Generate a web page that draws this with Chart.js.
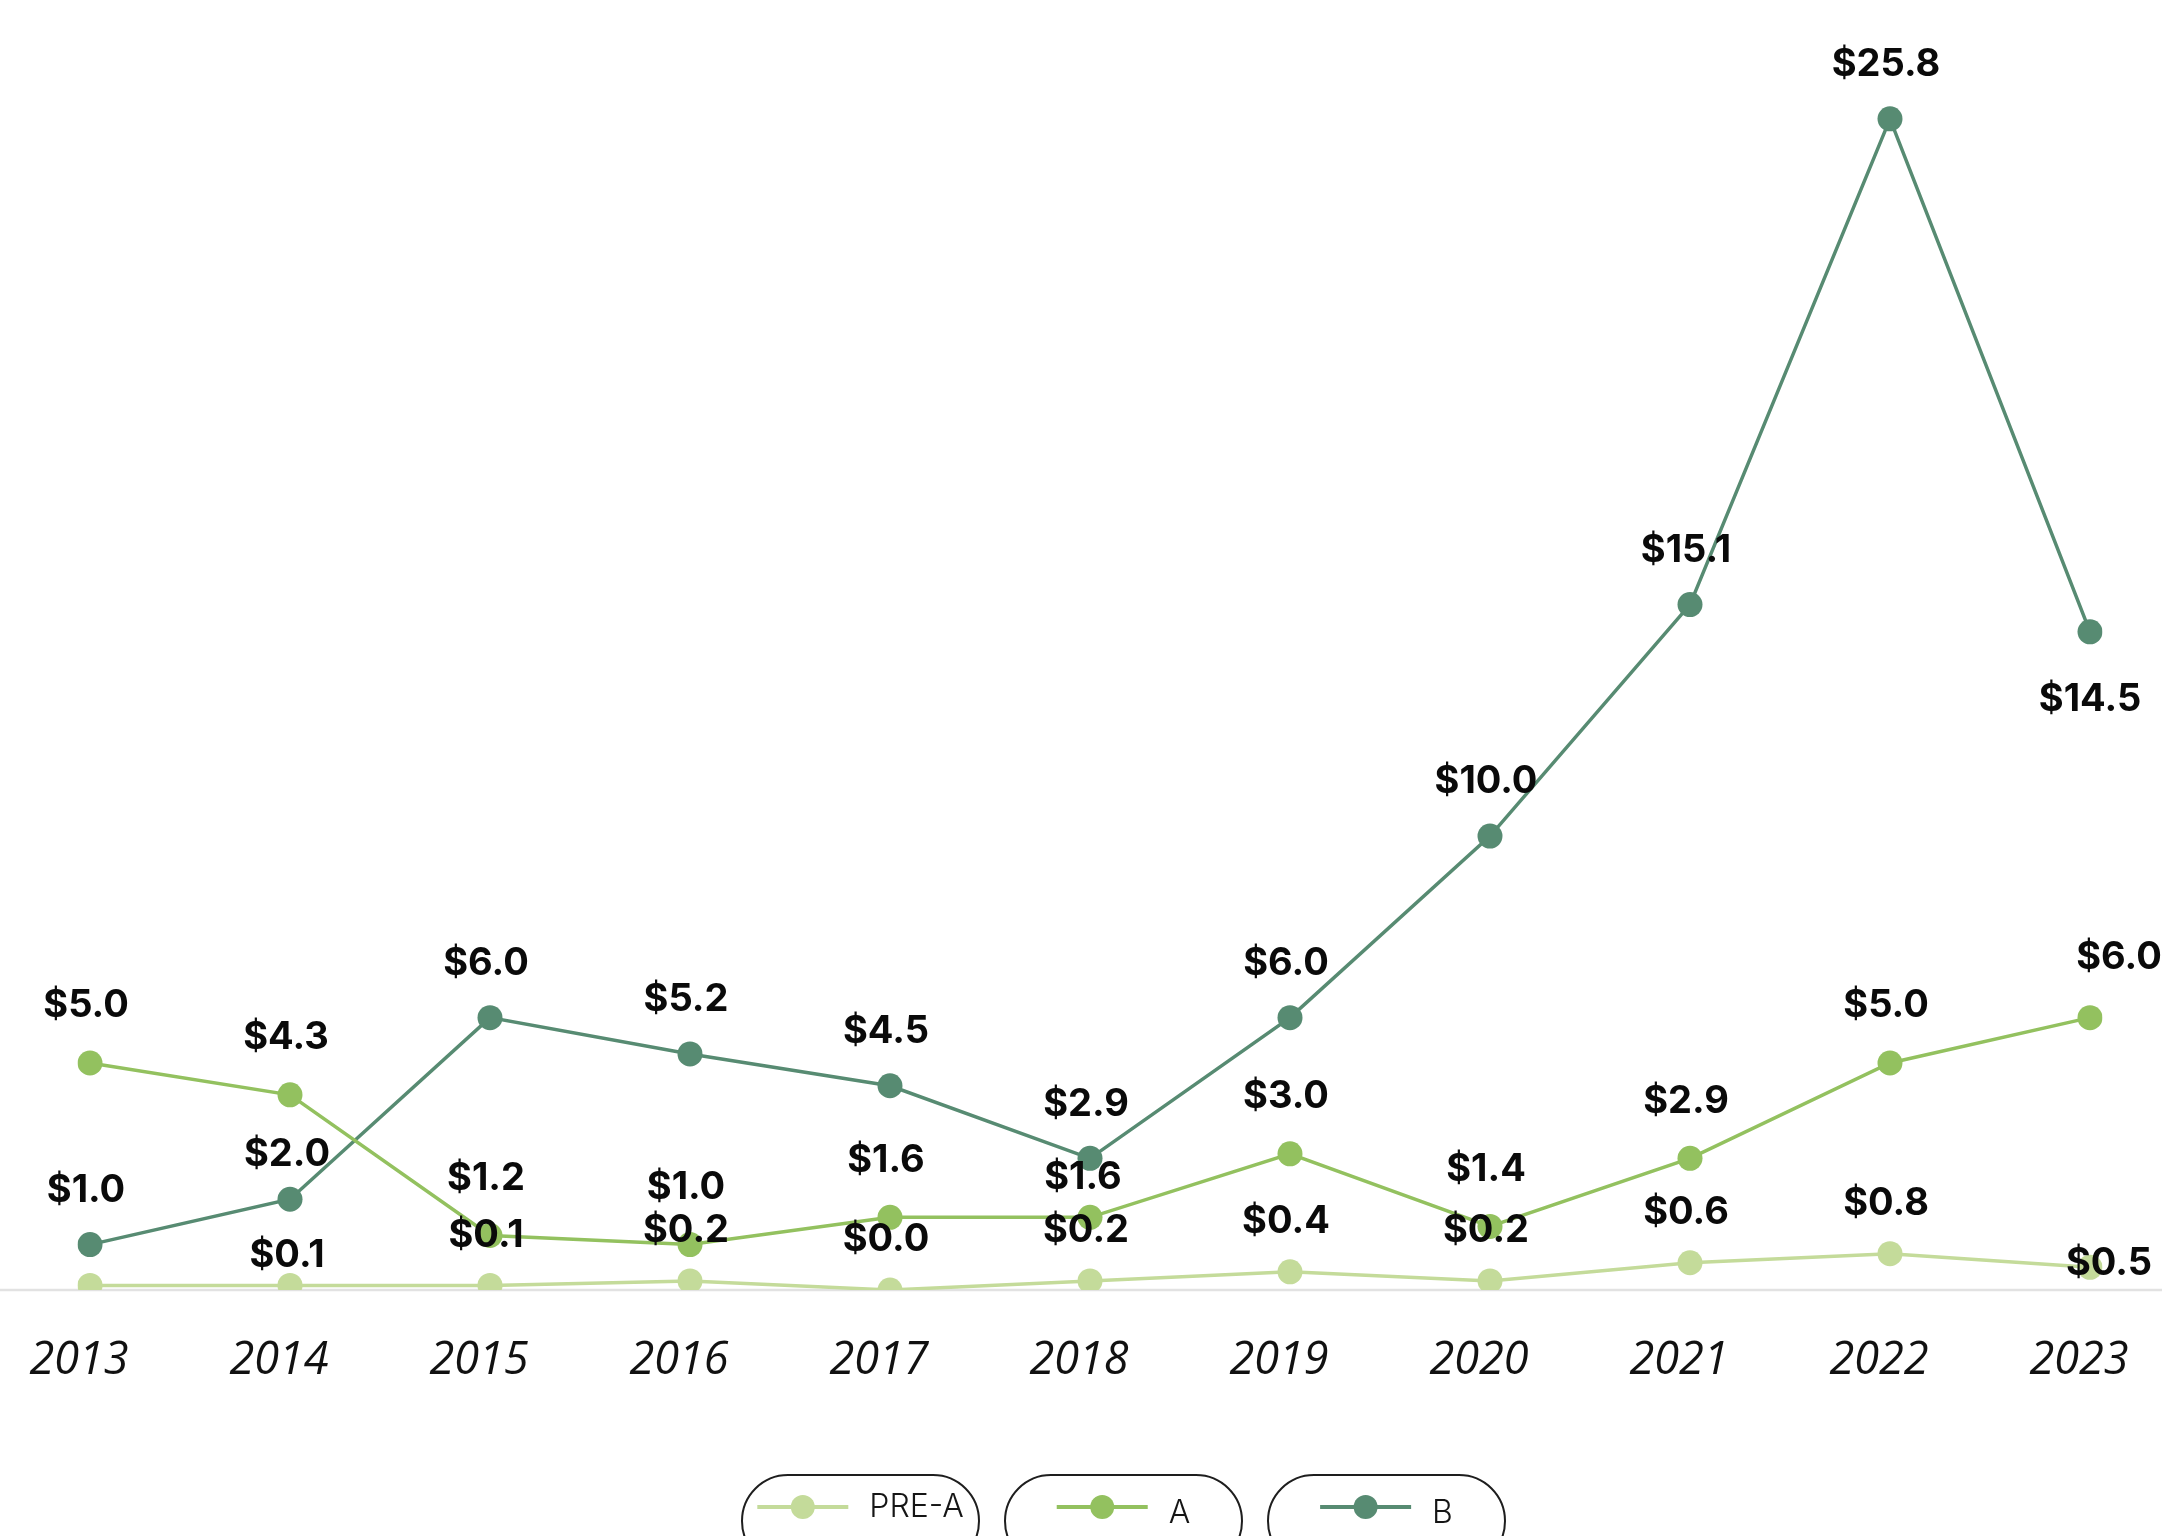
<!DOCTYPE html>
<html lang="en">
<head>
<meta charset="UTF-8">
<title>Funding by stage</title>
<script src="https://cdn.jsdelivr.net/npm/chart.js"></script>
<style>
  html, body { margin: 0; padding: 0; background: #fff; overflow: hidden; }
  canvas { display: block; }
</style>
</head>
<body>
<canvas id="stages" width="2162" height="1536"></canvas>
<script>
    const years = ['2013', '2014', '2015', '2016', '2017', '2018', '2019', '2020', '2021', '2022', '2023'];
    const preA = [0.1, 0.1, 0.1, 0.2, 0.0, 0.2, 0.4, 0.2, 0.6, 0.8, 0.5];
    const stageA = [5.0, 4.3, 1.2, 1.0, 1.6, 1.6, 3.0, 1.4, 2.9, 5.0, 6.0];
    const stageB = [1.0, 2.0, 6.0, 5.2, 4.5, 2.9, 6.0, 10.0, 15.1, 25.8, 14.5];
    const seriesNames = ['PRE-A', 'A', 'B'];
    const seriesColors = ['#c4db9a', '#93c15f', '#578b72'];

    // value labels above each point, a few moved by hand like the original
    const valueLabels = {
        id: 'valueLabels',
        afterDatasetsDraw(chart, args, opts) {
            const ctx = chart.ctx;
            ctx.save();
            ctx.font = opts.font;
            ctx.fillStyle = opts.color;
            ctx.textAlign = 'center';
            ctx.textBaseline = 'middle';
            chart.data.datasets.forEach((ds, di) => {
                const meta = chart.getDatasetMeta(di);
                meta.data.forEach((pt, i) => {
                    const key = di + ':' + i;
                    if (opts.skip.includes(key)) return;
                    const shift = opts.shifts[key] || [opts.dx, opts.dy[di]];
                    ctx.fillText('$' + ds.data[i].toFixed(1), pt.x + shift[0], pt.y + shift[1]);
                });
            });
            ctx.restore();
        }
    };

    // thin grey zero line running the full width
    const zeroLine = {
        id: 'zeroLine',
        beforeDatasetsDraw(chart) {
            const ctx = chart.ctx;
            const y = chart.scales.y.getPixelForValue(0);
            ctx.save();
            ctx.strokeStyle = '#e2e2e2';
            ctx.lineWidth = 2.5;
            ctx.beginPath();
            ctx.moveTo(0, y);
            ctx.lineTo(chart.width, y);
            ctx.stroke();
            ctx.restore();
        }
    };

    // pill shaped legend at the bottom
    const pillLegend = {
        id: 'pillLegend',
        afterDraw(chart, args, opts) {
            const ctx = chart.ctx;
            ctx.save();
            ctx.font = opts.font;
            chart.data.datasets.forEach((ds, i) => {
                const left = opts.left + i * (opts.width + opts.gap);
                ctx.strokeStyle = '#1e1e1e';
                ctx.lineWidth = 2;
                ctx.beginPath();
                ctx.roundRect(left, opts.top, opts.width, opts.height, opts.height / 2);
                ctx.stroke();

                const textW = ctx.measureText(ds.label).width;
                const contentW = opts.lineLen + opts.textGap + textW;
                const start = left + (opts.width - contentW) / 2;
                const cy = opts.lineY;
                ctx.strokeStyle = ds.borderColor;
                ctx.lineWidth = 4;
                ctx.beginPath();
                ctx.moveTo(start, cy);
                ctx.lineTo(start + opts.lineLen, cy);
                ctx.stroke();
                ctx.fillStyle = ds.borderColor;
                ctx.beginPath();
                ctx.arc(start + opts.lineLen / 2, cy, 12, 0, Math.PI * 2);
                ctx.fill();

                ctx.fillStyle = '#151515';
                ctx.textAlign = 'left';
                ctx.textBaseline = 'middle';
                ctx.fillText(ds.label, start + opts.lineLen + opts.textGap, cy + (i === 0 ? 0 : 6));
            });
            ctx.restore();
        }
    };

    const allSeries = [preA, stageA, stageB];

    new Chart(document.getElementById('stages'), {
        type: 'line',
        data: {
            labels: years,
            datasets: allSeries.map((values, i) => ({
                label: seriesNames[i],
                data: values,
                borderColor: seriesColors[i],
                backgroundColor: seriesColors[i],
                pointBackgroundColor: seriesColors[i],
                pointBorderWidth: 0,
                pointRadius: 12.5,
                borderWidth: 3.5,
                tension: 0,
                fill: false
            }))
        },
        options: {
            responsive: false,
            animation: false,
            events: [],
            layout: {
                padding: { left: 90, right: 72, top: 19, bottom: 148 }
            },
            scales: {
                x: {
                    offset: false,
                    // tick marks are not drawn, their length only pushes the labels down
                    grid: { display: false, drawTicks: true, tickLength: 44 },
                    border: { display: false },
                    ticks: {
                        color: '#111',
                        padding: 0,
                        labelOffset: -11,
                        maxRotation: 0,
                        autoSkip: false,
                        font: { family: 'Open Sans', size: 45, style: 'italic' }
                    }
                },
                y: {
                    display: false,
                    min: 0,
                    max: 28
                }
            },
            plugins: {
                legend: { display: false },
                tooltip: { enabled: false },
                valueLabels: {
                    font: 'bold 38px Inter',
                    color: '#0a0a0a',
                    dx: -4,
                    dy: [-50, -57, -54],
                    skip: ['0:0'],
                    shifts: {
                        '0:1': [-3, -30],
                        '0:10': [19, -4],
                        '1:5': [-7, -40],
                        '1:10': [29, -60],
                        '2:1': [-3, -45],
                        '2:10': [0, 68]
                    }
                },
                pillLegend: {
                    font: '300 32px Inter',
                    left: 742,
                    top: 1475,
                    width: 237,
                    gap: 26,
                    height: 92,
                    lineY: 1507,
                    lineLen: 91,
                    textGap: 21
                }
            }
        },
        plugins: [zeroLine, valueLabels, pillLegend]
    });
</script>
</body>
</html>
